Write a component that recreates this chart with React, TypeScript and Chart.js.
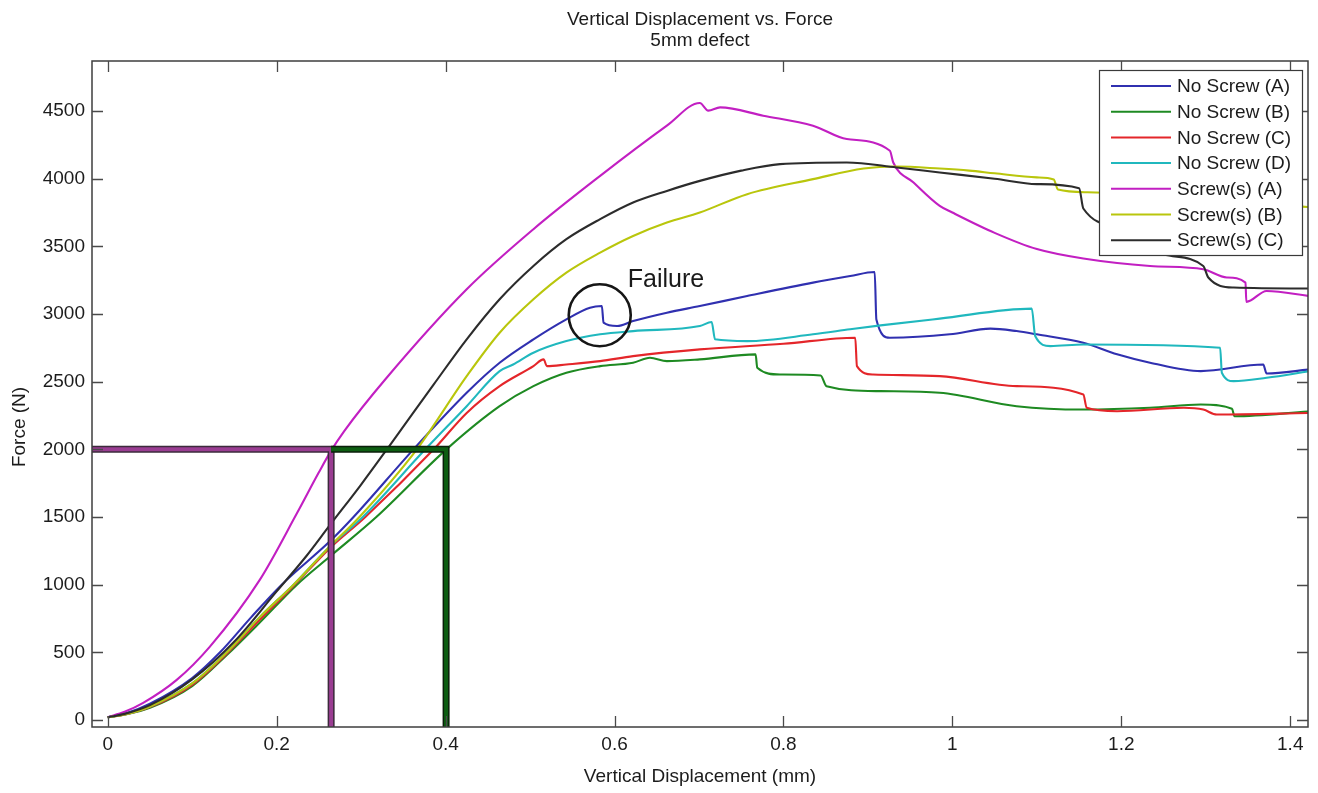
import React, { useEffect, useRef } from "react";
import { Chart, registerables } from "chart.js";

Chart.register(...registerables);

const FONT = '"Liberation Sans", Arial, Helvetica, sans-serif';

// Axis ranges
const X_MIN = -0.0186;
const X_MAX = 1.421;
const Y_MIN = -52;
const Y_MAX = 4870;
const X_TICKS = [0, 0.2, 0.4, 0.6, 0.8, 1, 1.2, 1.4];
const Y_TICKS = [0, 500, 1000, 1500, 2000, 2500, 3000, 3500, 4000, 4500];

// Titles
const TITLE_LINES = ["Vertical Displacement vs. Force", "5mm defect"];
const X_TITLE = "Vertical Displacement (mm)";
const Y_TITLE = "Force (N)";

// Series names & colours
const SERIES_NAMES = [
  "No Screw (A)",
  "No Screw (B)",
  "No Screw (C)",
  "No Screw (D)",
  "Screw(s) (A)",
  "Screw(s) (B)",
  "Screw(s) (C)",
];
const SERIES_COLORS = ["#3030b0", "#1e8a22", "#e4262a", "#20b8be", "#c21fc2", "#b9c60c", "#2c2c2c"];

// [displacement mm, force N]
const noScrewA: [number, number][] = [
  [0, 20], [0.02, 45], [0.05, 120], [0.1, 310], [0.133, 500], [0.17, 760], [0.206, 1000],
  [0.263, 1320], [0.291, 1500], [0.362, 2000], [0.425, 2418], [0.464, 2640],
  [0.504, 2813], [0.543, 2961], [0.571, 3047], [0.585, 3059], [0.587, 2936], [0.603, 2911],
  [0.622, 2948], [0.662, 3010], [0.701, 3059], [0.757, 3133], [0.835, 3232], [0.879, 3281],
  [0.908, 3311], [0.91, 2960], [0.926, 2825], [0.997, 2850], [1.045, 2892], [1.076, 2874],
  [1.1, 2850], [1.155, 2788], [1.195, 2702], [1.234, 2640], [1.294, 2578], [1.368, 2627],
  [1.372, 2561], [1.423, 2590],
];
const noScrewB: [number, number][] = [
  [0, 20], [0.02, 40], [0.05, 90], [0.1, 250], [0.141, 480], [0.18, 720], [0.224, 1000],
  [0.263, 1208], [0.318, 1500], [0.401, 2000], [0.464, 2319], [0.504, 2467],
  [0.543, 2566], [0.583, 2615], [0.622, 2640], [0.642, 2677], [0.662, 2652], [0.701, 2665],
  [0.767, 2702], [0.769, 2603], [0.796, 2553], [0.844, 2546], [0.851, 2467], [0.915, 2430],
  [0.985, 2418], [1.076, 2319], [1.155, 2294], [1.234, 2307], [1.294, 2331], [1.331, 2300],
  [1.334, 2245], [1.423, 2280],
];
const noScrewC: [number, number][] = [
  [0, 20], [0.02, 40], [0.05, 95], [0.1, 260], [0.141, 490], [0.18, 740], [0.22, 990],
  [0.263, 1270], [0.305, 1500], [0.386, 2000], [0.425, 2269], [0.464, 2467],
  [0.504, 2615], [0.516, 2665], [0.52, 2615], [0.543, 2627], [0.583, 2652], [0.622, 2689],
  [0.701, 2739], [0.8, 2780], [0.885, 2825], [0.887, 2615], [0.906, 2553], [0.985, 2541],
  [1.076, 2467], [1.155, 2405], [1.159, 2307], [1.195, 2282], [1.274, 2307], [1.297, 2294],
  [1.313, 2257], [1.423, 2269],
];
const noScrewD: [number, number][] = [
  [0, 20], [0.02, 42], [0.05, 100], [0.1, 270], [0.141, 500], [0.18, 760], [0.22, 1000],
  [0.263, 1282], [0.302, 1500], [0.376, 2000], [0.425, 2319], [0.464, 2578],
  [0.48, 2627], [0.504, 2714], [0.543, 2800], [0.583, 2850], [0.622, 2874], [0.701, 2911],
  [0.715, 2941], [0.719, 2813], [0.757, 2800], [0.835, 2850], [0.879, 2887], [0.915, 2916],
  [0.985, 2966], [1.094, 3040], [1.098, 2837], [1.116, 2763], [1.155, 2775], [1.317, 2751],
  [1.319, 2566], [1.333, 2504], [1.372, 2529], [1.423, 2578],
];
const screwA: [number, number][] = [
  [0, 20], [0.02, 60], [0.042, 126], [0.0817, 296], [0.121, 542], [0.18, 1035], [0.224, 1527],
  [0.25, 1830], [0.264, 1985], [0.28, 2135], [0.329, 2520], [0.425, 3183], [0.504, 3627],
  [0.583, 4021], [0.662, 4392], [0.701, 4560], [0.711, 4503], [0.725, 4527], [0.776, 4466],
  [0.835, 4392], [0.875, 4293], [0.926, 4207], [0.93, 4120], [0.954, 3972], [0.985, 3799],
  [1.0, 3750], [1.05, 3600], [1.1, 3480], [1.155, 3410], [1.234, 3355], [1.297, 3331],
  [1.325, 3270], [1.347, 3232], [1.348, 3090], [1.372, 3170], [1.423, 3133],
];
const screwB: [number, number][] = [
  [0, 20], [0.02, 40], [0.05, 100], [0.1, 270], [0.141, 500], [0.18, 760], [0.22, 1000],
  [0.263, 1282], [0.298, 1500], [0.366, 2000], [0.425, 2541], [0.464, 2862],
  [0.504, 3109], [0.543, 3306], [0.583, 3454], [0.622, 3577], [0.662, 3676], [0.701, 3750],
  [0.757, 3886], [0.835, 3997], [0.895, 4075], [0.934, 4090], [0.985, 4075], [1.02, 4060],
  [1.05, 4040], [1.1, 4010], [1.12, 3995], [1.125, 3920], [1.16, 3900], [1.3, 3850],
  [1.423, 3790],
];
const screwC: [number, number][] = [
  [0, 20], [0.02, 45], [0.05, 110], [0.1, 300], [0.15, 580], [0.2, 950], [0.235, 1210],
  [0.263, 1440], [0.3, 1740], [0.334, 2030], [0.386, 2480], [0.425, 2813], [0.464, 3109],
  [0.504, 3355], [0.543, 3553], [0.583, 3701], [0.622, 3824], [0.662, 3910], [0.701, 3984],
  [0.75, 4060], [0.796, 4108], [0.875, 4120], [0.934, 4083], [0.985, 4046], [1.05, 4000],
  [1.1, 3960], [1.15, 3930], [1.155, 3780], [1.2, 3640], [1.25, 3442], [1.297, 3355],
  [1.303, 3270], [1.333, 3196], [1.423, 3189],
];
const SERIES = [noScrewA, noScrewB, noScrewC, noScrewD, screwA, screwB, screwC];

// Reference lines at 2000 N
const REF_FORCE = 2000;
const SCREW_DISP = 0.2645;
const NO_SCREW_DISP = 0.4006;

// Failure annotation
const FAILURE_LABEL = "Failure";
const FAILURE_POINT: [number, number] = [0.5825, 2991];

const decorPlugin = {
  id: "decor",
  afterDatasetsDraw(chart: any) {
    const { ctx, chartArea: a, scales } = chart;
    const xs = scales.x;
    const ys = scales.y;
    ctx.save();
    // axis box
    ctx.strokeStyle = "#3e3e3e";
    ctx.lineWidth = 1.5;
    ctx.strokeRect(a.left, a.top, a.right - a.left, a.bottom - a.top);
    // inward ticks on all four sides
    ctx.lineWidth = 1.3;
    ctx.strokeStyle = "#4a4a4a";
    const TL = 11;
    ctx.beginPath();
    xs.ticks.forEach((t: any) => {
      const p = Math.round(xs.getPixelForValue(t.value)) + 0.5;
      ctx.moveTo(p, a.bottom);
      ctx.lineTo(p, a.bottom - TL);
      ctx.moveTo(p, a.top);
      ctx.lineTo(p, a.top + TL);
    });
    ys.ticks.forEach((t: any) => {
      const p = Math.round(ys.getPixelForValue(t.value)) + 0.5;
      ctx.moveTo(a.left, p);
      ctx.lineTo(a.left + TL, p);
      ctx.moveTo(a.right, p);
      ctx.lineTo(a.right - TL, p);
    });
    ctx.stroke();

    // failure circle
    const cx = xs.getPixelForValue(FAILURE_POINT[0]);
    const cy = ys.getPixelForValue(FAILURE_POINT[1]);
    ctx.beginPath();
    ctx.strokeStyle = "#161616";
    ctx.lineWidth = 2.6;
    ctx.arc(cx, cy, 31, 0, Math.PI * 2);
    ctx.stroke();
    ctx.fillStyle = "#1a1a1a";
    ctx.font = `25px ${FONT}`;
    ctx.textAlign = "left";
    ctx.textBaseline = "alphabetic";
    ctx.fillText(FAILURE_LABEL, cx + 28, cy - 28);

    // legend
    const lw = 203;
    const lh = 185;
    const lx = a.right - 6 - lw;
    const ly = a.top + 9;
    ctx.fillStyle = "#ffffff";
    ctx.fillRect(lx, ly, lw, lh);
    ctx.strokeStyle = "#3a3a3a";
    ctx.lineWidth = 1.2;
    ctx.strokeRect(lx + 0.5, ly + 0.5, lw, lh);
    ctx.font = `19px ${FONT}`;
    ctx.textBaseline = "middle";
    SERIES_NAMES.forEach((name, i) => {
      const ry = ly + 16 + i * 25.7;
      ctx.strokeStyle = SERIES_COLORS[i];
      ctx.lineWidth = 2;
      ctx.beginPath();
      ctx.moveTo(lx + 12, ry);
      ctx.lineTo(lx + 72, ry);
      ctx.stroke();
      ctx.fillStyle = "#1c1c1c";
      ctx.fillText(name, lx + 78, ry + 1);
    });
    ctx.restore();
  },
  afterDraw(chart: any) {
    const { ctx, chartArea: a } = chart;
    ctx.save();
    ctx.fillStyle = "#1c1c1c";
    ctx.font = `19px ${FONT}`;
    ctx.textAlign = "center";
    ctx.textBaseline = "alphabetic";
    const mid = (a.left + a.right) / 2;
    ctx.fillText(TITLE_LINES[0], mid, 25);
    ctx.fillText(TITLE_LINES[1], mid, 46);
    ctx.fillText(X_TITLE, mid, 782);
    ctx.translate(25, 427);
    ctx.rotate(-Math.PI / 2);
    ctx.fillText(Y_TITLE, 0, 0);
    ctx.restore();
  },
};

function toPts(arr: [number, number][]) {
  return arr.map(([x, y]) => ({ x, y }));
}

export default function App() {
  const ref = useRef<HTMLCanvasElement | null>(null);
  useEffect(() => {
    if (!ref.current) return;
    const curveSets = SERIES.map((s, i) => ({
      label: SERIES_NAMES[i],
      data: toPts(s),
      borderColor: SERIES_COLORS[i],
      borderWidth: 2.1,
      pointRadius: 0,
      fill: false,
      cubicInterpolationMode: "monotone",
      order: 10 - i,
    }));
    const screwRef = [
      { x: -1, y: REF_FORCE },
      { x: SCREW_DISP, y: REF_FORCE },
      { x: SCREW_DISP, y: -500 },
    ];
    const noScrewRef = [
      { x: SCREW_DISP, y: REF_FORCE },
      { x: NO_SCREW_DISP, y: REF_FORCE },
      { x: NO_SCREW_DISP, y: -500 },
    ];
    const refSets = [
      { label: "_a", data: noScrewRef, borderColor: "#0d5e12", borderWidth: 4, pointRadius: 0, order: 0 },
      { label: "_b", data: noScrewRef, borderColor: "#0b1f0b", borderWidth: 7, pointRadius: 0, order: 1 },
      { label: "_c", data: screwRef, borderColor: "#9a3d92", borderWidth: 4, pointRadius: 0, order: 2 },
      { label: "_d", data: screwRef, borderColor: "#3b2b3b", borderWidth: 7, pointRadius: 0, order: 3 },
    ];
    const tickFont = { family: FONT, size: 19 };
    const chart = new Chart(ref.current, {
      type: "line",
      data: { datasets: [...refSets, ...curveSets] as any },
      plugins: [decorPlugin],
      options: {
        animation: false,
        responsive: false,
        layout: { padding: { top: 61, right: 10, left: 0, bottom: 0 } },
        plugins: { legend: { display: false }, title: { display: false }, tooltip: { enabled: false } },
        scales: {
          x: {
            type: "linear",
            min: X_MIN,
            max: X_MAX,
            grid: { display: false, drawTicks: false },
            border: { display: false },
            afterBuildTicks: (s: any) => {
              s.ticks = X_TICKS.map((v) => ({ value: v }));
            },
            ticks: {
              autoSkip: false,
              maxRotation: 0,
              padding: 6,
              color: "#1c1c1c",
              font: tickFont,
              callback: (v: any) => String(Math.round(Number(v) * 10) / 10),
            },
            afterFit: (s: any) => {
              s.height = 66;
            },
          },
          y: {
            type: "linear",
            min: Y_MIN,
            max: Y_MAX,
            grid: { display: false, drawTicks: false },
            border: { display: false },
            afterBuildTicks: (s: any) => {
              s.ticks = Y_TICKS.map((v) => ({ value: v }));
            },
            ticks: {
              autoSkip: false,
              padding: 7,
              color: "#1c1c1c",
              font: tickFont,
              callback: (v: any) => String(Math.round(Number(v))),
            },
            afterFit: (s: any) => {
              s.width = 92;
            },
          },
        },
      } as any,
    });
    return () => chart.destroy();
  }, []);
  return (
    <div style={{ position: "fixed", left: 0, top: 0, width: 1318, height: 793, background: "#fff" }}>
      <canvas ref={ref} width={1318} height={793} style={{ display: "block", width: 1318, height: 793 }} />
    </div>
  );
}
